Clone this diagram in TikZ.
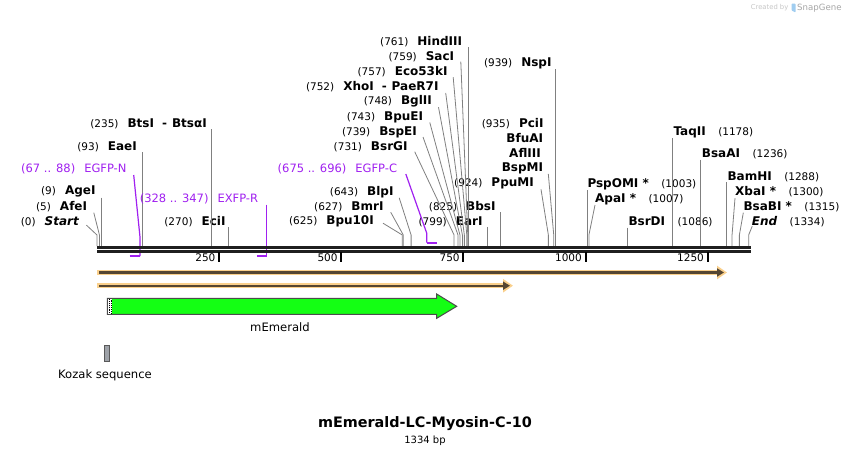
\documentclass[tikz,border=0pt]{standalone}
\usepackage{fontspec}
\setmainfont{DejaVu Sans}
\usepackage{tikz}
\usetikzlibrary{positioning,arrows.meta}
\definecolor{cutgrey}{RGB}{128,128,128}
\definecolor{primerc}{RGB}{160,32,240}
\definecolor{glowc}{RGB}{250,208,140}
\definecolor{featdark}{RGB}{85,70,50}
\definecolor{emerald}{RGB}{20,255,20}
\definecolor{kozakc}{RGB}{158,162,168}
\definecolor{logoc}{RGB}{160,205,240}
\newcommand{\bp}[1]{97+0.4885*#1}
\newcommand{\enz}[1]{{\fontsize{12}{14}\selectfont\bfseries #1}}

\begin{document}
\begin{tikzpicture}[x=1pt,y=-1pt]
  \tikzset{lab/.style={inner sep=0pt, font=\fontsize{10.5}{12}\selectfont}}
  \tikzset{plab/.style={inner sep=0pt, text=primerc, font=\fontsize{11.5}{13}\selectfont}}
  \tikzset{flab/.style={inner sep=0pt, font=\fontsize{11.6}{13}\selectfont}}
  \tikzset{cut/.style={draw=cutgrey, line width=0.8pt}}
  \tikzset{primer/.style={draw=primerc, line width=1.2pt}}
  \tikzset{primerbar/.style={draw=primerc, line width=2pt}}
  \tikzset{seqline/.style={draw=black!88, line width=3pt}}
  \tikzset{glow/.style={draw=glowc, line width=5.5pt, -{Triangle[length=10pt,width=13pt]}}}
  \tikzset{feat/.style={draw=featdark, line width=2.4pt, -{Triangle[length=7pt,width=8pt]}}}

  \fill[white] (0,0) rectangle (848,456);
  \useasboundingbox (0,0) rectangle (848,456);

  % sites on the sequence
  \coordinate (sStart) at ({\bp{0}},246);
  \coordinate (sAfeI) at ({\bp{5}},246);
  \coordinate (sAgeI) at ({\bp{9}},246);
  \coordinate (sEaeI) at ({\bp{93}},246);
  \coordinate (sBtsI) at ({\bp{235}},246);
  \coordinate (sEciI) at ({\bp{270}},246);
  \coordinate (sBpu10I) at ({\bp{625}},246);
  \coordinate (sBmrI) at ({\bp{627}},246);
  \coordinate (sBlpI) at ({\bp{643}},246);
  \coordinate (sBsrGI) at ({\bp{731}},246);
  \coordinate (sBspEI) at ({\bp{739}},246);
  \coordinate (sBpuEI) at ({\bp{743}},246);
  \coordinate (sBglII) at ({\bp{748}},246);
  \coordinate (sXhoI) at ({\bp{752}},246);
  \coordinate (sEco53kI) at ({\bp{757}},246);
  \coordinate (sSacI) at ({\bp{759}},246);
  \coordinate (sHindIII) at ({\bp{761}},246);
  \coordinate (sEarI) at ({\bp{799}},246);
  \coordinate (sBbsI) at ({\bp{825}},246);
  \coordinate (sPpuMI) at ({\bp{924}},246);
  \coordinate (sBspMI) at ({\bp{935}},246);
  \coordinate (sNspI) at ({\bp{939}},246);
  \coordinate (sPspOMI) at ({\bp{1003}},246);
  \coordinate (sApaI) at ({\bp{1007}},246);
  \coordinate (sBsrDI) at ({\bp{1086}},246);
  \coordinate (sTaqII) at ({\bp{1178}},246);
  \coordinate (sBsaAI) at ({\bp{1236}},246);
  \coordinate (sBamHI) at ({\bp{1288}},246);
  \coordinate (sXbaI) at ({\bp{1300}},246);
  \coordinate (sBsaBI) at ({\bp{1315}},246);
  \coordinate (sEnd) at ({\bp{1334}},246);

  % labels left of their cut
  \node[lab, anchor=east] (lStart) at (79,221.7) {(0)\hspace{9pt}\enz{\itshape Start}};
  \node[lab, anchor=east] (lAfeI) at (87.3,206.7) {(5)\hspace{9pt}\enz{AfeI}};
  \node[lab, anchor=east] (lAgeI) at (95.7,191.7) {(9)\hspace{9pt}\enz{AgeI}};
  \node[lab, anchor=east] (lEaeI) at (137,147) {(93)\hspace{9pt}\enz{EaeI}};
  \node[lab, anchor=east] (lBtsI) at (207,124) {(235)\hspace{9pt}\enz{BtsI\hspace{8pt}-\hspace{5pt}BtsαI}};
  \node[lab, anchor=east] (lEciI) at (225.7,222) {(270)\hspace{9pt}\enz{EciI}};
  \node[lab, anchor=east] (lBpu10I) at (374,221.7) {(625)\hspace{9pt}\enz{Bpu10I}};
  \node[lab, anchor=east] (lBmrI) at (383.7,206.7) {(627)\hspace{9pt}\enz{BmrI}};
  \node[lab, anchor=east] (lBlpI) at (393.7,192.3) {(643)\hspace{9pt}\enz{BlpI}};
  \node[lab, anchor=east] (lBsrGI) at (407.7,146.7) {(731)\hspace{9pt}\enz{BsrGI}};
  \node[lab, anchor=east] (lBspEI) at (417,132) {(739)\hspace{9pt}\enz{BspEI}};
  \node[lab, anchor=east] (lBpuEI) at (423.3,117) {(743)\hspace{9pt}\enz{BpuEI}};
  \node[lab, anchor=east] (lBglII) at (432,101.7) {(748)\hspace{9pt}\enz{BglII}};
  \node[lab, anchor=east] (lXhoI) at (438.7,87) {(752)\hspace{9pt}\enz{XhoI\hspace{8pt}-\hspace{5pt}PaeR7I}};
  \node[lab, anchor=east] (lEco53kI) at (447.7,71.7) {(757)\hspace{9pt}\enz{Eco53kI}};
  \node[lab, anchor=east] (lSacI) at (454.3,56.7) {(759)\hspace{9pt}\enz{SacI}};
  \node[lab, anchor=east] (lHindIII) at (462.3,41.7) {(761)\hspace{9pt}\enz{HindIII}};
  \node[lab, anchor=east] (lEarI) at (482.7,221.7) {(799)\hspace{9pt}\enz{EarI}};
  \node[lab, anchor=east] (lBbsI) at (495.7,206.7) {(825)\hspace{9pt}\enz{BbsI}};
  \node[lab, anchor=east] (lPpuMI) at (534,183.3) {(924)\hspace{9pt}\enz{PpuMI}};
  \node[lab, anchor=east] (lBspMI) at (543.3,168.3) {\enz{BspMI}};
  \node[lab, anchor=east] (lAflIII) at (541,153.3) {\enz{AflIII}};
  \node[lab, anchor=east] (lBfuAI) at (543.3,138.3) {\enz{BfuAI}};
  \node[lab, anchor=east] (lPciI) at (543.7,124) {(935)\hspace{9pt}\enz{PciI}};
  \node[lab, anchor=east] (lNspI) at (551.7,63.3) {(939)\hspace{9pt}\enz{NspI}};

  % labels right of their cut
  \node[lab, anchor=west] (lPspOMI) at (587.3,184.3) {\enz{PspOMI *}\hspace{12.5pt}(1003)};
  \node[lab, anchor=west] (lApaI) at (595,199) {\enz{ApaI *}\hspace{12.5pt}(1007)};
  \node[lab, anchor=west] (lBsrDI) at (628.3,222.3) {\enz{BsrDI}\hspace{12.5pt}(1086)};
  \node[lab, anchor=west] (lTaqII) at (673.3,132.3) {\enz{TaqII}\hspace{12.5pt}(1178)};
  \node[lab, anchor=west] (lBsaAI) at (701.7,154.3) {\enz{BsaAI}\hspace{12.5pt}(1236)};
  \node[lab, anchor=west] (lBamHI) at (727.3,177) {\enz{BamHI}\hspace{12.5pt}(1288)};
  \node[lab, anchor=west] (lXbaI) at (735,191.7) {\enz{XbaI *}\hspace{12.5pt}(1300)};
  \node[lab, anchor=west] (lBsaBI) at (743.3,206.7) {\enz{BsaBI *}\hspace{12.5pt}(1315)};
  \node[lab, anchor=west] (lEnd) at (751.7,221.7) {\enz{\itshape End}\hspace{12.5pt}(1334)};

  % leaders
  \draw[cut] ([xshift=7.5pt,yshift=-3.5pt]lStart.east) -- ([yshift=11pt]sStart) -- (sStart);
  \draw[cut] ([xshift=6.5pt,yshift=-6pt]lAfeI.east) -- ([yshift=11pt]sAfeI) -- (sAfeI);
  \draw[cut] (sAgeI |- lAgeI.south) -- (sAgeI);
  \draw[cut] (sEaeI |- lEaeI.south) -- (sEaeI);
  \draw[cut] (sBtsI |- lBtsI.south) -- (sBtsI);
  \draw[cut] (sEciI |- lEciI.south) -- (sEciI);
  \draw[cut] ([xshift=9pt,yshift=-1.5pt]lBpu10I.east) -- ([yshift=11pt]sBpu10I) -- (sBpu10I);
  \draw[cut] ([xshift=7pt,yshift=-5.5pt]lBmrI.east) -- ([yshift=11pt]sBmrI) -- (sBmrI);
  \draw[cut] ([xshift=5.5pt,yshift=-5.5pt]lBlpI.east) -- ([yshift=11pt]sBlpI) -- (sBlpI);
  \draw[cut] ([xshift=7pt,yshift=-5pt]lBsrGI.east) -- ([yshift=11pt]sBsrGI) -- (sBsrGI);
  \draw[cut] ([xshift=6pt,yshift=-5pt]lBspEI.east) -- ([yshift=11pt]sBspEI) -- (sBspEI);
  \draw[cut] ([xshift=6.5pt,yshift=-5.5pt]lBpuEI.east) -- ([yshift=11pt]sBpuEI) -- (sBpuEI);
  \draw[cut] ([xshift=6.5pt,yshift=-5.5pt]lBglII.east) -- ([yshift=11pt]sBglII) -- (sBglII);
  \draw[cut] ([xshift=7pt,yshift=-6pt]lXhoI.east) -- ([yshift=11pt]sXhoI) -- (sXhoI);
  \draw[cut] ([xshift=5.5pt,yshift=-5.5pt]lEco53kI.east) -- ([yshift=11pt]sEco53kI) -- (sEco53kI);
  \draw[cut] ([xshift=6.5pt,yshift=-5pt]lSacI.east) -- ([yshift=11pt]sSacI) -- (sSacI);
  \draw[cut] (sHindIII |- lHindIII.south) -- (sHindIII);
  \draw[cut] (sEarI |- lEarI.south) -- (sEarI);
  \draw[cut] (sBbsI |- lBbsI.south) -- (sBbsI);
  \draw[cut] ([xshift=7pt,yshift=-6pt]lPpuMI.east) -- ([yshift=11pt]sPpuMI) -- (sPpuMI);
  \draw[cut] ([xshift=5pt,yshift=-5.5pt]lBspMI.east) -- ([yshift=11pt]sBspMI) -- (sBspMI);
  \draw[cut] (sNspI |- lNspI.south) -- (sNspI);
  \draw[cut] (sPspOMI |- lPspOMI.south) -- (sPspOMI);
  \draw[cut] ([yshift=-6pt]lApaI.west) -- ([yshift=11pt]sApaI) -- (sApaI);
  \draw[cut] (sBsrDI |- lBsrDI.south) -- (sBsrDI);
  \draw[cut] (sTaqII |- lTaqII.south) -- (sTaqII);
  \draw[cut] (sBsaAI |- lBsaAI.south) -- (sBsaAI);
  \draw[cut] (sBamHI |- lBamHI.south) -- (sBamHI);
  \draw[cut] ([yshift=-6.5pt]lXbaI.west) -- ([yshift=11pt]sXbaI) -- (sXbaI);
  \draw[cut] ([yshift=-6pt]lBsaBI.west) -- ([yshift=11pt]sBsaBI) -- (sBsaBI);
  \draw[cut] ([xshift=0.5pt,yshift=-4.5pt]lEnd.west) -- ([yshift=11pt]sEnd) -- (sEnd);

  % primers
  \coordinate (pEGFPNa) at ({\bp{67}},256);
  \coordinate (pEGFPNb) at ({\bp{88}},256);
  \coordinate (pEXFPRa) at ({\bp{328}},256);
  \coordinate (pEXFPRb) at ({\bp{347}},256);
  \coordinate (pEGFPCa) at ({\bp{675}},242.7);
  \coordinate (pEGFPCb) at ({\bp{696}},242.7);
  \node[plab, anchor=east] (lEGFPN) at (126.7,169) {(67 .. 88)\hspace{9pt}EGFP-N};
  \node[plab, anchor=east] (lEXFPR) at (258.3,199.3) {(328 .. 347)\hspace{9pt}EXFP-R};
  \node[plab, anchor=east] (lEGFPC) at (397.3,169) {(675 .. 696)\hspace{9pt}EGFP-C};
  \draw[primer] ([xshift=7pt,yshift=-6pt]lEGFPN.east) -- ([yshift=19pt]pEGFPNb) -- (pEGFPNb);
  \draw[primer] (pEXFPRb |- lEXFPR.south) -- (pEXFPRb);
  \draw[primer] ([xshift=8.5pt,yshift=-5pt]lEGFPC.east) -- ([yshift=9.5pt]pEGFPCa) -- (pEGFPCa);
  \draw[primerbar] (pEGFPNa) -- (pEGFPNb);
  \draw[primerbar] (pEXFPRa) -- (pEXFPRb);
  \draw[primerbar] (pEGFPCa) -- (pEGFPCb);

  % sequence and ruler
  \draw[seqline] (97,247.3) -- (751,247.3);
  \draw[seqline, line width=2.6pt] (97,251.6) -- (751,251.6);
  \foreach \t in {250,500,750,1000,1250} {
    \coordinate (t\t) at ({\bp{\t}},252);
    \draw[line width=2pt] (t\t) -- ([yshift=-10pt]t\t);
    \node[lab, anchor=east] (n\t) at ([xshift=-3.5pt,yshift=-6pt]t\t) {\t};
  }

  % features
  \draw[glow] (97,272.5) -- (727,272.5);
  \draw[feat] (99,272.5) -- (724,272.5);
  \draw[glow] (97,285.7) -- (513,285.7);
  \draw[feat] (99,285.7) -- (510,285.7);

  \draw[draw=black!70, line width=1pt, fill=emerald] (107.3,298.3) -- (436.7,298.3) -- (436.7,294) -- (456.7,306.3)
    -- (436.7,318.3) -- (436.7,314.3) -- (107.3,314.3) -- cycle;
  \fill[white] (108.3,299) rectangle (112.3,313.6);
  \draw[densely dotted, line width=0.9pt] (109.3,299) -- (109.3,313.6);
  \draw[densely dotted, line width=0.9pt] (111.3,299.5) -- (111.3,313.6);
  \node[flab] (lmEmerald) at (280,327.3) {mEmerald};

  \draw[draw=black!65, fill=kozakc, line width=0.8pt] (104.3,345) rectangle (109.3,361);
  \node[flab] (lKozak) at (105,375) {Kozak sequence};

  % title
  \node[inner sep=0pt, font=\fontsize{14.4}{17}\selectfont\bfseries] (title) at (425,424) {mEmerald-LC-Myosin-C-10};
  \node[inner sep=0pt, font=\fontsize{10}{12}\selectfont, below=4pt of title] (size) {1334 bp};

  % watermark
  \node[inner sep=0pt, anchor=west, text=black!22, font=\fontsize{6.8}{8}\selectfont] (wmA) at (750.7,8) {Created by};
  \fill[logoc, rounded corners=0.8pt] (791.5,3.5) -- (795.5,3.5) -- (795.5,12.5) -- (791.5,10.5) -- cycle;
  \node[inner sep=0pt, anchor=west, text=black!35, font=\fontsize{8.6}{10}\selectfont] (wmB) at (797,8) {SnapGene};
\end{tikzpicture}
\end{document}
